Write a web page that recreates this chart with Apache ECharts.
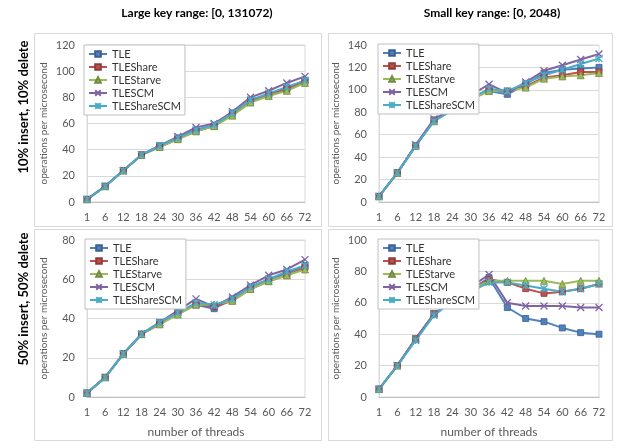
<!DOCTYPE html>
<html><head><meta charset="utf-8">
<script src="https://cdn.jsdelivr.net/npm/echarts@6/dist/echarts.min.js"></script>
<style>html,body{margin:0;padding:0;background:#fff}#c{width:621px;height:448px}</style>
</head><body><div id="c"></div>
<script>
const threads = ['1','6','12','18','24','30','36','42','48','54','60','66','72'];
const seriesNames = ['TLE','TLEShare','TLEStarve','TLESCM','TLEShareSCM'];

// 10% insert, 10% delete, large key range
const large10_TLE         = [2,12,24,36,43,49,55,58,68,78,82,87,93];
const large10_TLEShare    = [2,12,24,36,42,48,54,58,67,77,82,86,92];
const large10_TLEStarve   = [2,12,24,36,42,48,54,58,66,76,81,85,91];
const large10_TLESCM      = [2,12,24,36,43,50,57,60,69,80,85,91,96];
const large10_TLEShareSCM = [2,12,24,36,43,49,55,59,68,78,83,88,93];

// 10% insert, 10% delete, small key range
const small10_TLE         = [5,26,50,73,82,93,99,96,105,115,118,119,120];
const small10_TLEShare    = [5,26,50,73,82,92,100,99,103,111,113,116,116];
const small10_TLEStarve   = [5,26,50,72,82,91,99,99,102,110,112,113,115];
const small10_TLESCM      = [5,26,51,74,83,95,105,97,107,117,122,127,132];
const small10_TLEShareSCM = [5,26,50,72,82,92,101,99,106,113,118,123,128];

// 50% insert, 50% delete, large key range
const large50_TLE         = [2,10,22,32,38,43,47,45,50,56,60,63,67];
const large50_TLEShare    = [2,10,22,32,37,43,47,46,49,55,59,62,66];
const large50_TLEStarve   = [2,10,22,32,37,42,47,47,49,55,59,62,65];
const large50_TLESCM      = [2,10,22,32,38,44,50,46,51,57,62,65,70];
const large50_TLEShareSCM = [2,10,22,32,38,43,48,47,50,56,60,64,67];

// 50% insert, 50% delete, small key range
const small50_TLE         = [5,20,37,53,61,68,76,57,50,48,44,41,40];
const small50_TLEShare    = [5,20,37,53,61,68,75,73,69,66,67,69,72];
const small50_TLEStarve   = [5,20,37,53,61,68,74,74,74,74,72,74,74];
const small50_TLESCM      = [5,20,37,53,61,70,78,60,58,58,58,57,57];
const small50_TLEShareSCM = [5,20,36,52,61,67,73,73,71,69,67,69,72];

const yMax = [120, 140, 80, 100];
const colTitles = ['Large key range: [0, 131072)', 'Small key range: [0, 2048)'];
const rowTitles = ['10% insert, 10% delete', '50% insert, 50% delete'];
const yName = 'operations per microsecond';
const xName = 'number of threads';

const panels = [
  [large10_TLE, large10_TLEShare, large10_TLEStarve, large10_TLESCM, large10_TLEShareSCM],
  [small10_TLE, small10_TLEShare, small10_TLEStarve, small10_TLESCM, small10_TLEShareSCM],
  [large50_TLE, large50_TLEShare, large50_TLEStarve, large50_TLESCM, large50_TLEShareSCM],
  [small50_TLE, small50_TLEShare, small50_TLEStarve, small50_TLESCM, small50_TLEShareSCM]
];

const FONT = 'Lato, "Noto Sans", sans-serif';
const colors = ['#4F81BD','#C0504D','#9BBB59','#8064A2','#4BACC6'];
const borders = ['#3A6090','#8E3B39','#718B41','#5E4A78','#3890A6'];
const symbols = ['rect','rect','triangle','path://M0,0L10,10M10,0L0,10','path://M0,0L10,10M10,0L0,10M5,0L5,10'];
const symSizes = [6,6,7,7,7];

const grids = [
  {left:87, top:45, width:218, height:157},
  {left:379, top:45, width:220, height:157},
  {left:87, top:240, width:218, height:157},
  {left:379, top:240, width:220, height:157}
];
const legendPos = [
  {left:84, top:45}, {left:378, top:44}, {left:85, top:239}, {left:378, top:239}
];

const xAxes = [], yAxes = [], series = [], legends = [];
grids.forEach((g, i) => {
  xAxes.push({
    type:'category', gridIndex:i, data:threads, boundaryGap:false,
    axisLine:{show:true, lineStyle:{color:'#BFBFBF'}},
    axisTick:{show:false},
    axisLabel:{interval:0, color:'#595959', fontSize:11, fontFamily:FONT, margin:10},
    splitLine:{show:false},
    name: i >= 2 ? xName : '',
    nameLocation:'middle', nameGap:29,
    nameTextStyle:{color:'#595959', fontSize:12, fontFamily:FONT}
  });
  yAxes.push({
    type:'value', gridIndex:i, min:0, max:yMax[i], interval:20,
    axisLine:{show:true, lineStyle:{color:'#D9D9D9'}},
    axisTick:{show:false},
    axisLabel:{color:'#595959', fontSize:11, fontFamily:FONT, margin:12},
    splitLine:{show:true, lineStyle:{color:'#D9D9D9'}},
    name: yName, nameLocation:'middle', nameGap:38,
    nameTextStyle:{color:'#595959', fontSize:10, fontFamily:FONT}
  });
  seriesNames.forEach((n, k) => {
    const isStroke = k >= 3;
    series.push({
      type:'line', name:n, xAxisIndex:i, yAxisIndex:i,
      data: panels[i][k],
      symbol: symbols[k], symbolSize: symSizes[k],
      showAllSymbol:true,
      lineStyle:{color:colors[k], width:2},
      itemStyle: isStroke
        ? {color:colors[k], borderColor:colors[k], borderWidth:1.3}
        : {color:colors[k], borderColor:borders[k], borderWidth:0.8},
      emphasis:{disabled:true},
      animation:false
    });
  });
  legends.push({
    data: seriesNames, orient:'vertical',
    left: legendPos[i].left, top: legendPos[i].top,
    itemWidth:18, itemHeight:7, itemGap:1,
    padding:[3,4,3,4],
    backgroundColor:'#fff', borderColor:'#BFBFBF', borderWidth:1,
    textStyle:{color:'#333', fontSize:11, fontFamily:FONT, lineHeight:12},
    selectedMode:false
  });
});

const graphics = [
  {type:'rect', shape:{x:34.5, y:33.5, width:287, height:193}, style:{fill:'none', stroke:'#D9D9D9', lineWidth:1}, z:-1},
  {type:'rect', shape:{x:328.5, y:33.5, width:284, height:193}, style:{fill:'none', stroke:'#D9D9D9', lineWidth:1}, z:-1},
  {type:'rect', shape:{x:34.5, y:229.5, width:287, height:211}, style:{fill:'none', stroke:'#D9D9D9', lineWidth:1}, z:-1},
  {type:'rect', shape:{x:328.5, y:229.5, width:284, height:211}, style:{fill:'none', stroke:'#D9D9D9', lineWidth:1}, z:-1},
  {type:'text', x:197, y:13, style:{text:colTitles[0], align:'center', verticalAlign:'middle', font:'bold 12px '+FONT, fill:'#000'}},
  {type:'text', x:492, y:13, style:{text:colTitles[1], align:'center', verticalAlign:'middle', font:'bold 12px '+FONT, fill:'#000'}},
  {type:'text', x:24, y:107, rotation:Math.PI/2, style:{text:rowTitles[0], align:'center', verticalAlign:'middle', font:'bold 13px '+FONT, fill:'#000'}},
  {type:'text', x:24, y:299, rotation:Math.PI/2, style:{text:rowTitles[1], align:'center', verticalAlign:'middle', font:'bold 13px '+FONT, fill:'#000'}}
];

const chart = echarts.init(document.getElementById('c'), null, {renderer:'canvas'});
chart.setOption({
  animation:false,
  backgroundColor:'#fff',
  grid: grids.map(g => Object.assign({show:true, borderColor:'#D9D9D9', borderWidth:1, backgroundColor:'transparent'}, g)),
  xAxis: xAxes, yAxis: yAxes, series: series, legend: legends,
  graphic: graphics
});
</script></body></html>
